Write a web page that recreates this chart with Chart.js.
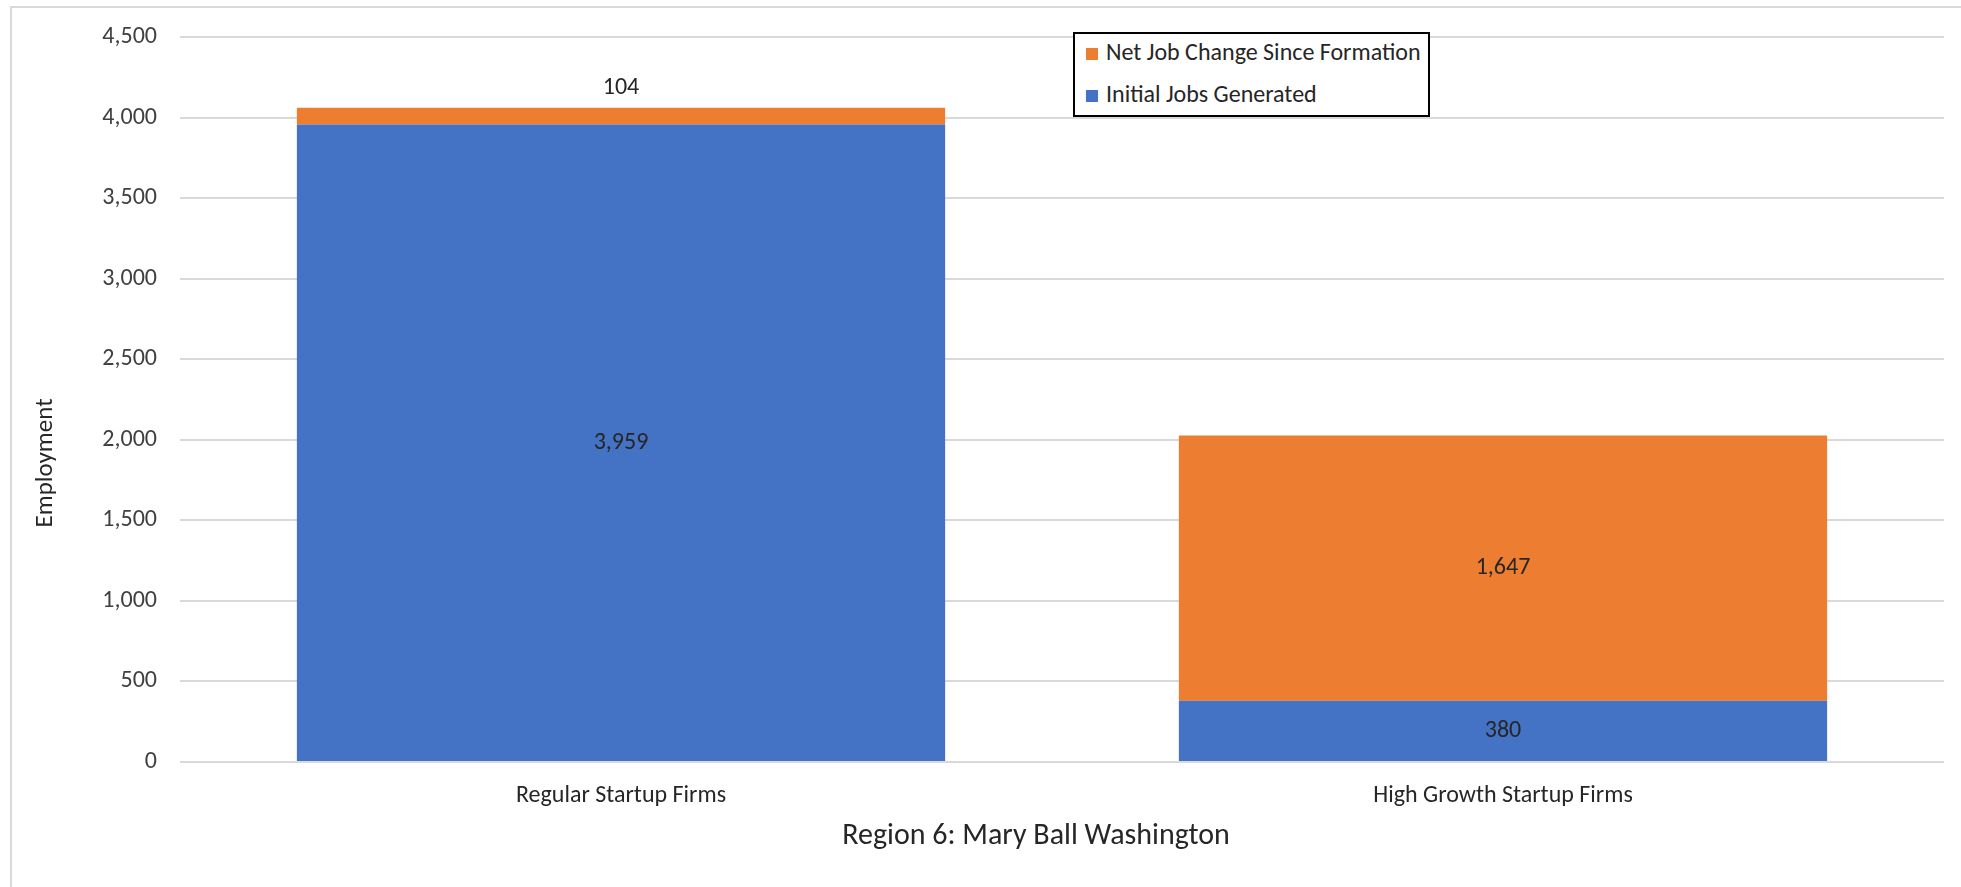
<!DOCTYPE html>
<html>
<head>
<meta charset="utf-8">
<script src="https://cdn.jsdelivr.net/npm/chart.js@4"></script>
<style>
    body { margin: 0; background: #fff; }
    #wrap { position: relative; width: 1961px; height: 887px; }
    #legend {
        position: absolute; left: 1073px; top: 32px; width: 353px; height: 81px;
        border: 2px solid #000; background: #fff;
        font-family: Carlito, Lato, sans-serif; font-size: 24px; color: #262626;
    }
    .item { position: absolute; left: 11px; height: 26px; line-height: 26px; white-space: nowrap; }
    .box { display: inline-block; width: 12px; height: 12px; margin-right: 8px; vertical-align: 0px; }
</style>
</head>
<body>
<div id="wrap">
    <canvas id="myBarChart" width="1961" height="887"></canvas>
    <div id="legend"></div>
</div>
<script>
// Datos
const categories = ['Regular Startup Firms', 'High Growth Startup Firms'];
const initialJobs = [3959, 380];
const netJobChange = [104, 1647];
const yMin = 0;
const yMax = 4500;
const yStep = 500;

const FONT = 'Carlito, Lato, sans-serif';
const fmt = v => Number(v).toLocaleString('en-US');

// Etiquetas de datos (dentro de la barra o encima si el segmento es muy delgado)
const dataLabels = {
    id: 'dataLabels',
    afterDatasetsDraw(chart) {
        const ctx = chart.ctx;
        ctx.save();
        ctx.font = '24px ' + FONT;
        ctx.fillStyle = '#262626';
        ctx.textAlign = 'center';
        ctx.textBaseline = 'middle';
        chart.data.datasets.forEach((ds, i) => {
            chart.getDatasetMeta(i).data.forEach((bar, j) => {
                const h = bar.base - bar.y;
                const y = h < 30 ? bar.y - 20 : bar.y + h / 2;
                ctx.fillText(fmt(ds.data[j]), bar.x, y);
            });
        });
        ctx.restore();
    }
};

// Marco y títulos de los ejes
const frameAndTitles = {
    id: 'frameAndTitles',
    beforeDraw(chart) {
        const ctx = chart.ctx;
        ctx.save();
        ctx.fillStyle = '#fff';
        ctx.fillRect(0, 0, chart.width, chart.height);
        ctx.strokeStyle = '#d9d9d9';
        ctx.lineWidth = 2;
        ctx.beginPath();
        ctx.moveTo(11, chart.height);
        ctx.lineTo(11, 7);
        ctx.lineTo(chart.width, 7);
        ctx.stroke();
        ctx.restore();
    },
    afterDraw(chart) {
        const ctx = chart.ctx;
        ctx.save();
        ctx.fillStyle = '#262626';
        ctx.textAlign = 'center';
        ctx.textBaseline = 'middle';
        ctx.font = '25px ' + FONT;
        ctx.translate(46, 463);
        ctx.rotate(-Math.PI / 2);
        ctx.fillText('Employment', 0, 0);
        ctx.restore();
        ctx.save();
        ctx.fillStyle = '#262626';
        ctx.textAlign = 'center';
        ctx.textBaseline = 'middle';
        ctx.font = '30px ' + FONT;
        ctx.fillText('Region 6: Mary Ball Washington', 1036, 836);
        ctx.restore();
    }
};

const barData = {
    labels: categories,
    datasets: [
        {
            label: 'Initial Jobs Generated',
            data: initialJobs,
            backgroundColor: '#4472C4',
            barPercentage: 0.735,
            categoryPercentage: 1
        },
        {
            label: 'Net Job Change Since Formation',
            data: netJobChange,
            backgroundColor: '#ED7D31',
            barPercentage: 0.735,
            categoryPercentage: 1
        }
    ]
};

const configBar = {
    type: 'bar',
    data: barData,
    options: {
        responsive: false,
        animation: false,
        devicePixelRatio: 1,
        layout: { padding: { top: 30, right: 17, left: 0, bottom: 0 } },
        plugins: {
            legend: { display: false },
            tooltip: { enabled: false }
        },
        scales: {
            x: {
                stacked: true,
                grid: { display: false },
                border: { display: false },
                ticks: { color: '#262626', padding: 12, font: { family: FONT, size: 24 } },
                afterFit: s => { s.height = 125; }
            },
            y: {
                stacked: true,
                min: yMin,
                max: yMax,
                ticks: {
                    stepSize: yStep,
                    color: '#404040',
                    padding: 23,
                    font: { family: FONT, size: 24 },
                    callback: v => fmt(v)
                },
                grid: { color: '#d9d9d9', lineWidth: 2, drawTicks: false },
                border: { display: false },
                afterFit: s => { s.width = 180; }
            }
        }
    },
    plugins: [dataLabels, frameAndTitles]
};

const chart = new Chart(document.getElementById('myBarChart').getContext('2d'), configBar);

// Leyenda en HTML (orden invertido, como en la original)
const legend = document.getElementById('legend');
const rowsY = [5, 47];
barData.datasets.slice().reverse().forEach((ds, i) => {
    const item = document.createElement('div');
    item.className = 'item';
    item.style.top = rowsY[i] + 'px';
    item.innerHTML = '<span class="box" style="background:' + ds.backgroundColor + '"></span>' + ds.label;
    legend.appendChild(item);
});
</script>
</body>
</html>
